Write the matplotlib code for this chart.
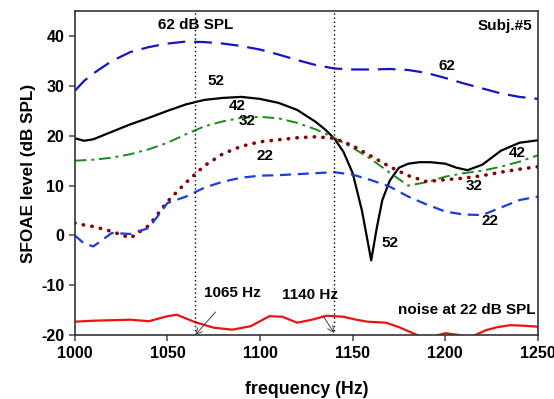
import matplotlib
matplotlib.use("Agg")
import matplotlib.pyplot as plt

plt.rcParams.update({
    "font.family": ["Liberation Sans", "DejaVu Sans"],
    "font.weight": "bold",
    "axes.unicode_minus": False,
})

# frequency grid (Hz)
freq = [1000, 1005, 1010, 1020, 1030, 1040, 1050, 1060, 1070, 1080, 1090, 1100,
        1110, 1120, 1130, 1140, 1150, 1160, 1170, 1180, 1190, 1200, 1210,
        1220, 1230, 1240, 1250]

spl62 = [29, 31.0, 32.5, 35, 36.8, 37.8, 38.5, 38.9, 38.8, 38.5, 38, 37.3,
         36.3, 35.2, 34.2, 33.5, 33.3, 33.3, 33.4, 33.2, 32.6, 31.6, 30.5,
         29.5, 28.5, 27.8, 27.4]

# 52 dB has a sharp notch, so it gets its own finer grid
freq52 = [1000, 1005, 1010, 1020, 1030, 1040, 1050, 1060, 1070, 1080, 1090,
          1100, 1110, 1120, 1130, 1135, 1140, 1145, 1150, 1155, 1160, 1163, 1166,
          1170, 1175, 1180, 1186, 1192, 1200, 1206, 1212, 1220, 1230, 1240, 1250]
spl52 = [19.5, 19.0, 19.3, 20.8, 22.3, 23.6, 25.0, 26.3, 27.2, 27.6, 27.8,
         27.4, 26.6, 25.2, 22.8, 21.3, 19.5, 16.8, 12.5, 5.0, -5.0, 1.5, 7.1,
         11.0, 13.6, 14.4, 14.7, 14.7, 14.4, 13.6, 13.1, 14.2, 17.0, 18.6, 19.1]

spl42 = [15, 15.1, 15.2, 15.6, 16.3, 17.3, 18.6, 20.3, 21.9, 22.9, 23.6, 23.8,
         23.5, 22.6, 21.3, 19.6, 17.6, 15.3, 12.6, 10.0, 10.7, 11.8, 12.5,
         13.0, 13.8, 14.8, 16.1]

spl32 = [2.5, 2.1, 1.8, 0.8, -0.5, 2.0, 6.8, 10.6, 14.0, 16.4, 17.9, 18.8,
         19.2, 19.6, 19.8, 19.5, 18.0, 15.9, 13.8, 12.0, 10.8, 11.2, 11.5,
         12.0, 12.7, 13.3, 13.8]

spl22 = [0, -1.6, -2.2, 0.5, 0.3, 1.5, 6.5, 7.8, 9.6, 10.8, 11.6, 12.0,
         12.1, 12.3, 12.5, 12.7, 12.2, 11.1, 9.8, 7.8, 6.2, 4.8, 4.2,
         4.1, 5.6, 7.1, 7.8]

freq_noise = [1000, 1010, 1020, 1030, 1040, 1050, 1055, 1065, 1075, 1085, 1095,
              1105, 1112, 1120, 1128, 1136, 1145, 1152, 1158, 1168, 1175, 1185,
              1190, 1196, 1200, 1208, 1212, 1216, 1222, 1228, 1235, 1242, 1250]
noise = [-17.3, -17.1, -17.0, -16.9, -17.2, -16.2, -15.9, -17.4, -18.5, -18.9, -18.2,
         -16.2, -16.3, -17.5, -16.9, -16.1, -16.3, -16.9, -17.3, -17.5, -18.4, -20.0,
         -21.0, -20.0, -19.6, -20.0, -21.0, -20.0, -19.0, -18.4, -18.0, -18.1, -18.3]

marker_freqs = [1065, 1140]

fig = plt.figure(figsize=(5.54, 3.99), dpi=100)
ax = fig.add_axes([0.135, 0.160, 0.836, 0.812])

ax.plot(freq, spl62, color="#1515c8", lw=1.6, dashes=(8, 4))
ax.plot(freq52, spl52, color="black", lw=1.6)
ax.plot(freq, spl42, color="#1a8a1a", lw=1.4, dashes=(6, 2.5, 1.5, 2.5))
ax.plot(freq, spl32, color="#8b0000", lw=2.6, linestyle=(0, (0.1, 2.3)),
        dash_capstyle="round")
ax.plot(freq, spl22, color="#1a3ce0", lw=1.6, dashes=(5, 3))
ax.plot(freq_noise, noise, color="#ee1111", lw=1.6)

for f in marker_freqs:
    ax.axvline(f, color="black", lw=1.0, linestyle=(0, (1, 2)))

ax.set_xlim(1000, 1250)
ax.set_ylim(-20, 45)
ax.set_xticks([1000, 1050, 1100, 1150, 1200, 1250])
ax.set_yticks([-20, -10, 0, 10, 20, 30, 40])
ax.tick_params(labelsize=11.5, direction="out", length=4, width=1.2, color="#555555")
for s in ax.spines.values():
    s.set_color("#333333")
    s.set_linewidth(1.2)

ax.set_xlabel("frequency (Hz)", fontsize=12.8, fontweight="bold", labelpad=15)
ax.set_ylabel("SFOAE level (dB SPL)", fontsize=12.3, fontweight="bold", labelpad=4)

fs = 11
ax.text(1065, 42.3, "62 dB SPL", ha="center", va="center", fontsize=fs, fontweight="bold")
ax.text(1247, 42.0, "Subj.#5", ha="right", va="center", fontsize=fs, fontweight="bold")
ax.text(1076, 31, "52", ha="center", va="center", fontsize=fs, fontweight="bold")
ax.text(1087.5, 26, "42", ha="center", va="center", fontsize=fs, fontweight="bold")
ax.text(1093, 23, "32", ha="center", va="center", fontsize=fs, fontweight="bold")
ax.text(1102.5, 16, "22", ha="center", va="center", fontsize=fs, fontweight="bold")
ax.text(1201, 34, "62", ha="center", va="center", fontsize=fs, fontweight="bold")
ax.text(1239, 16.5, "42", ha="center", va="center", fontsize=fs, fontweight="bold")
ax.text(1215.5, 10, "32", ha="center", va="center", fontsize=fs, fontweight="bold")
ax.text(1224, 3, "22", ha="center", va="center", fontsize=fs, fontweight="bold")
ax.text(1170, -1.5, "52", ha="center", va="center", fontsize=fs, fontweight="bold")
ax.text(1211.5, -15, "noise at 22 dB SPL", ha="center", va="center", fontsize=fs,
        fontweight="bold")

ax.annotate("1065 Hz", xy=(1065, -20), xytext=(1085, -11.5), ha="center", va="center",
            fontsize=fs, fontweight="bold",
            arrowprops=dict(arrowstyle="->", color="#444444", lw=0.7,
                            shrinkA=9, shrinkB=0))
ax.annotate("1140 Hz", xy=(1140, -19.6), xytext=(1127, -12), ha="center", va="center",
            fontsize=fs, fontweight="bold",
            arrowprops=dict(arrowstyle="->", color="#444444", lw=0.7,
                            shrinkA=9, shrinkB=0))

fig.savefig("out.png", dpi=100)
